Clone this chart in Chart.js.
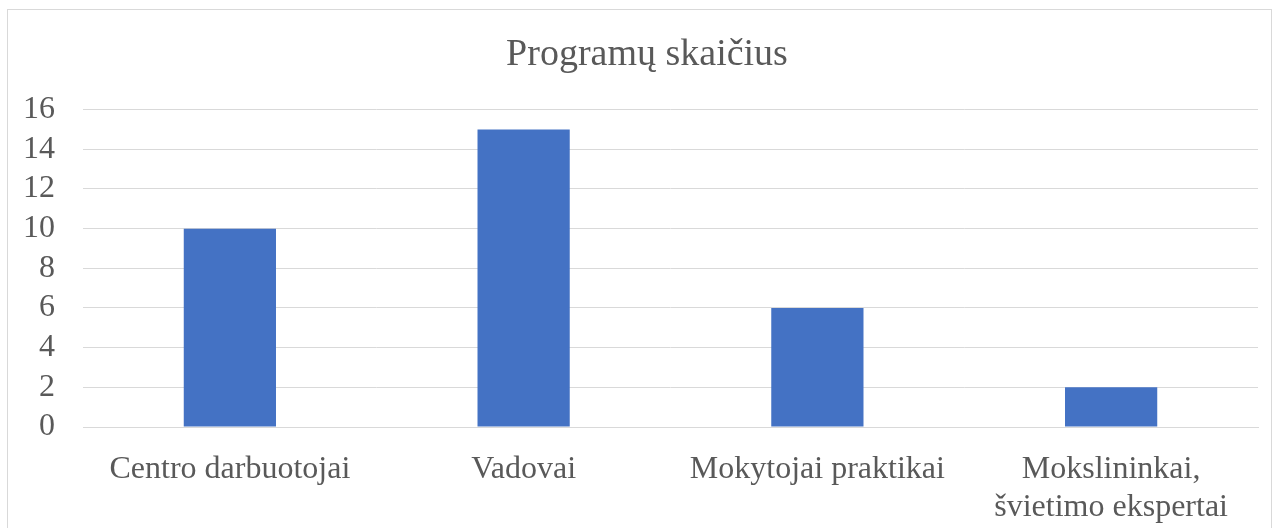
<!DOCTYPE html>
<html>
<head>
<meta charset="utf-8">
<script src="https://cdn.jsdelivr.net/npm/chart.js@4"></script>
<style>
  body { margin: 0; background: #fff; }
  #frame { position: absolute; left: 7px; top: 9px; width: 1265px; height: 530px; border: 1px solid #d9d9d9; box-sizing: border-box; }
  #wrap { position: absolute; left: 0; top: 0; width: 1280px; height: 528px; }
</style>
</head>
<body>
<div id="frame"></div>
<div id="wrap"><canvas id="myChart"></canvas></div>
<script>
// chart data
const categories = ['Centro darbuotojai', 'Vadovai', 'Mokytojai praktikai', ['Mokslininkai,', 'švietimo ekspertai']];
const programCounts = [10, 15, 6, 2];
const yTicks = [0, 2, 4, 6, 8, 10, 12, 14, 16];

const ctx = document.getElementById('myChart');
const textColor = '#595959';
const serif = '"Liberation Serif", "Times New Roman", serif';

// title in the original sits centred on the frame, not on the canvas minus padding
const shiftTitle = {
    id: 'shiftTitle',
    afterLayout(chart) {
        if (chart.titleBlock) chart.titleBlock.left += 36;
    }
};

new Chart(ctx, {
    type: 'bar',
    data: {
        labels: categories,
        datasets: [{
            label: 'Programų skaičius',
            data: programCounts,
            backgroundColor: '#4472c4',
            categoryPercentage: 1,
            barPercentage: 0.314
        }]
    },
    options: {
        responsive: true,
        maintainAspectRatio: false,
        animation: false,
        layout: { padding: { left: 0, right: 22, top: 0, bottom: 0 } },
        plugins: {
            legend: { display: false },
            tooltip: { enabled: false },
            title: {
                display: true,
                text: 'Programų skaičius',
                color: textColor,
                font: { family: serif, size: 38, weight: 'normal', lineHeight: 1.2 },
                padding: { top: 32, bottom: 32 }
            }
        },
        scales: {
            x: {
                grid: { display: false },
                border: { color: '#d9d9d9' },
                ticks: {
                    color: textColor,
                    font: { family: serif, size: 32, lineHeight: 1.2 },
                    padding: 15,
                    maxRotation: 0,
                    autoSkip: false
                },
                afterFit: (scale) => { scale.height = 101; }
            },
            y: {
                min: 0,
                max: 16,
                afterBuildTicks: (scale) => { scale.ticks = yTicks.map(v => ({ value: v })); },
                grid: { color: '#d9d9d9', drawTicks: false },
                border: { display: false },
                ticks: {
                    color: textColor,
                    font: { family: serif, size: 32 },
                    padding: 28,
                    autoSkip: false
                },
                afterFit: (scale) => { scale.width = 83; }
            }
        }
    },
    plugins: [shiftTitle]
});
</script>
</body>
</html>
